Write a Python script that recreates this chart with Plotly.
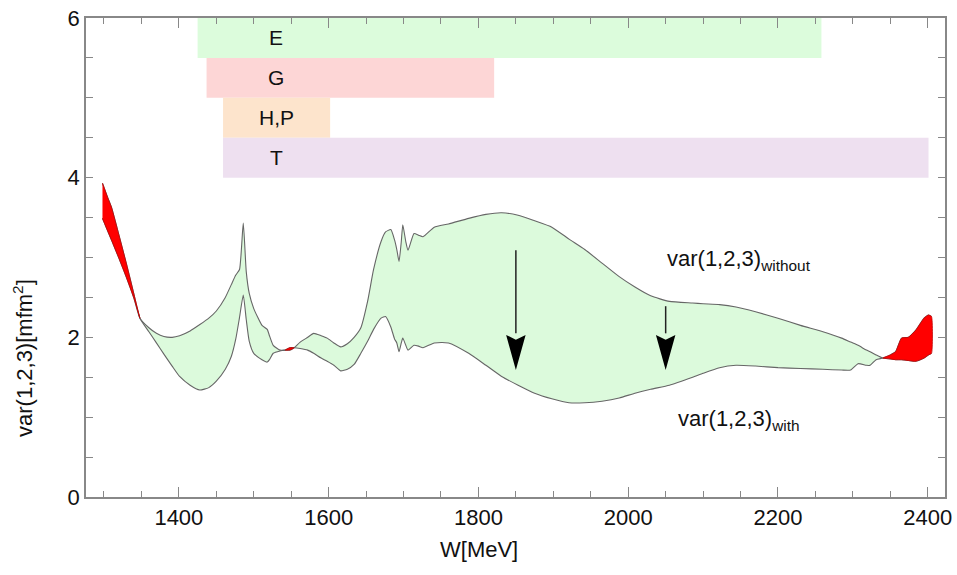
import numpy as np
import plotly.graph_objects as go

# ---------------- data ----------------
W_MEV = [1298, 1305, 1310, 1320, 1330, 1340, 1348, 1360, 1370, 1380, 1391, 1401, 1415, 1428,
         1440, 1450, 1462, 1470, 1476, 1481, 1486, 1490, 1494, 1500, 1511, 1518, 1521, 1526,
         1535, 1542, 1548, 1554, 1562, 1572, 1580, 1590, 1598, 1607, 1616, 1625, 1634, 1643,
         1652, 1660, 1670, 1676, 1683, 1688, 1691, 1694, 1697, 1699, 1703, 1706, 1714, 1720,
         1726, 1741, 1760, 1787, 1810, 1831, 1853, 1875, 1898, 1921, 1942, 1965, 1988, 2009,
         2030, 2055, 2086, 2100, 2122, 2144, 2170, 2200, 2230, 2260, 2285, 2297, 2307, 2318,
         2323, 2331, 2340, 2350, 2357, 2365, 2374, 2384, 2395, 2401, 2405]

VAR_WITHOUT = [3.49, 3.33, 3.22, 2.99, 2.75, 2.49, 2.24, 2.12, 2.05, 2.01, 2.00, 2.02, 2.08, 2.16,
               2.24, 2.33, 2.50, 2.66, 2.78, 2.85, 3.43, 2.82, 2.55, 2.36, 2.15, 2.10, 2.02, 1.90,
               1.84, 1.84, 1.84, 1.87, 1.94, 2.00, 2.05, 2.02, 1.99, 1.93, 1.88, 1.92, 2.00, 2.12,
               2.45, 2.85, 3.20, 3.32, 3.35, 3.22, 3.10, 2.95, 3.20, 3.41, 3.20, 3.09, 3.30, 3.28,
               3.26, 3.38, 3.42, 3.49, 3.54, 3.56, 3.53, 3.46, 3.38, 3.23, 3.10, 2.93, 2.76, 2.63,
               2.52, 2.45, 2.43, 2.42, 2.41, 2.38, 2.32, 2.24, 2.15, 2.07, 1.99, 1.94, 1.90, 1.84,
               1.82, 1.78, 1.74, 1.73, 1.72, 1.72, 1.71, 1.70, 1.74, 1.78, 1.80]

VAR_WITH = [3.93, 3.75, 3.63, 3.28, 2.92, 2.54, 2.24, 2.07, 1.93, 1.79, 1.64, 1.51, 1.40, 1.34,
            1.37, 1.45, 1.60, 1.76, 1.98, 2.25, 2.53, 2.22, 1.95, 1.80, 1.72, 1.69, 1.72, 1.80,
            1.83, 1.84, 1.87, 1.87, 1.86, 1.84, 1.80, 1.74, 1.70, 1.65, 1.58, 1.60, 1.66, 1.80,
            1.95, 2.10, 2.24, 2.26, 2.13, 1.98, 1.93, 1.82, 1.93, 1.99, 1.90, 1.84, 1.90, 1.89,
            1.87, 1.93, 1.93, 1.80, 1.65, 1.51, 1.40, 1.30, 1.23, 1.18, 1.18, 1.20, 1.24, 1.30,
            1.35, 1.40, 1.50, 1.55, 1.62, 1.65, 1.64, 1.62, 1.61, 1.60, 1.59, 1.59, 1.67, 1.65,
            1.65, 1.72, 1.74, 1.78, 1.82, 1.99, 2.00, 2.09, 2.24, 2.28, 2.26]

BAND_LABELS = ["E", "G", "H,P", "T"]
BAND_START = [1425, 1437, 1459, 1459]
BAND_END = [2258, 1821, 1602, 2401]

X_TICKS = [1400, 1600, 1800, 2000, 2200, 2400]
Y_TICKS = [0, 2, 4, 6]

# ---------------- styles ----------------
FONT = "Arial, 'Liberation Sans', sans-serif"
BAND_COLORS = ["#dcfcdc", "#fdd6d6", "#fde4cc", "#eee0f0"]
GREEN_FILL = "#dcfadc"
LINE_GREY = "#666666"
AXIS_GREY = "#888888"
SMOOTH = 0.5

fig = go.Figure()

# bands as horizontal bars
fig.add_trace(go.Bar(
    y=[5.75 - 0.5 * i for i in range(len(BAND_LABELS))],
    x=[e - s for s, e in zip(BAND_START, BAND_END)],
    base=BAND_START,
    orientation="h",
    width=0.5,
    marker=dict(color=BAND_COLORS, line=dict(width=0)),
    hoverinfo="skip",
    showlegend=False,
))

# ---------------- fill segments ----------------
W = np.array(W_MEV, dtype=float)
up = np.array(VAR_WITHOUT, dtype=float)
lo = np.array(VAR_WITH, dtype=float)
d = lo - up

pts = [(W[0], up[0], lo[0])]
for i in range(1, len(W)):
    if d[i - 1] * d[i] < 0:
        t = d[i - 1] / (d[i - 1] - d[i])
        xc = W[i - 1] + t * (W[i] - W[i - 1])
        yc = up[i - 1] + t * (up[i] - up[i - 1])
        pts.append((xc, yc, yc))
    pts.append((W[i], up[i], lo[i]))

segments = []
cur = [pts[0]]
for p in pts[1:]:
    cur.append(p)
    if abs(p[2] - p[1]) < 1e-9:
        segments.append(cur)
        cur = [p]
if len(cur) > 1:
    segments.append(cur)

green_segs, red_segs = [], []
for seg in segments:
    diff = np.mean([p[2] - p[1] for p in seg])
    xs = [p[0] for p in seg]
    ua = [p[1] for p in seg]
    la = [p[2] for p in seg]
    poly_x = xs + xs[::-1]
    poly_y = ua + la[::-1]
    (red_segs if diff > 0 else green_segs).append((poly_x, poly_y))

for px, py in green_segs:
    fig.add_trace(go.Scatter(x=px, y=py, fill="toself", fillcolor=GREEN_FILL,
                             mode="lines", line=dict(width=0, shape="spline", smoothing=SMOOTH),
                             hoverinfo="skip", showlegend=False))

for series in (VAR_WITHOUT, VAR_WITH):
    fig.add_trace(go.Scatter(x=W_MEV, y=series, mode="lines",
                             line=dict(color=LINE_GREY, width=1.1, shape="spline", smoothing=SMOOTH),
                             hoverinfo="skip", showlegend=False))

for px, py in red_segs:
    fig.add_trace(go.Scatter(x=px, y=py, fill="toself", fillcolor="#ff0000",
                             mode="lines",
                             line=dict(color="#c00000", width=0.8, shape="spline", smoothing=SMOOTH),
                             hoverinfo="skip", showlegend=False))

# ---------------- band labels ----------------
LABEL_X = 1530
for i, lab in enumerate(BAND_LABELS):
    fig.add_annotation(x=LABEL_X, y=5.75 - 0.5 * i, text=lab, showarrow=False,
                       font=dict(family=FONT, size=21, color="#111111"),
                       xanchor="center", yanchor="middle")

# ---------------- arrows ----------------
for ax_x, top in [(1850, 3.09), (2050, 2.39)]:
    head_top, tip, half = 2.03, 1.59, 13.0
    fig.add_shape(type="line", x0=ax_x, x1=ax_x, y0=top, y1=head_top + 0.02,
                  xref="x", yref="y", line=dict(color="#222222", width=1.5))
    fig.add_shape(type="path",
                  path=f"M {ax_x - half},{head_top} L {ax_x},{tip} L {ax_x + half},{head_top} "
                       f"L {ax_x},{head_top - 0.06} Z",
                  xref="x", yref="y", fillcolor="#000000", line=dict(width=0))

# ---------------- curve labels ----------------
fig.add_annotation(x=2049, y=2.97, text="var(1,2,3)<sub>without</sub>", showarrow=False,
                   xanchor="left", yanchor="middle",
                   font=dict(family=FONT, size=22, color="#111111"))
fig.add_annotation(x=2064, y=0.96, text="var(1,2,3)<sub>with</sub>", showarrow=False,
                   xanchor="left", yanchor="middle",
                   font=dict(family=FONT, size=22, color="#111111"))

# axis titles as annotations
fig.add_annotation(xref="paper", yref="paper", x=-0.0735, y=0.29,
                   text="var(1,2,3)[mfm<sup>2</sup>]", textangle=-90, showarrow=False,
                   xanchor="center", yanchor="middle",
                   font=dict(family=FONT, size=22, color="#111111"))
fig.add_annotation(xref="paper", yref="paper", x=0.457, y=-0.1086,
                   text="W[MeV]", showarrow=False, xanchor="center", yanchor="middle",
                   font=dict(family=FONT, size=22, color="#111111"))

fig.update_layout(
    width=957, height=575,
    margin=dict(l=86, r=12, t=18, b=78, autoexpand=False),
    paper_bgcolor="white", plot_bgcolor="white",
    showlegend=False,
    font=dict(family=FONT, size=22, color="#111111"),
    barmode="overlay",
)
fig.update_xaxes(
    range=[1276, 2423], tickvals=X_TICKS, ticks="inside", ticklen=10, tickwidth=1.2,
    tickcolor=AXIS_GREY, showline=True, linecolor=AXIS_GREY, linewidth=1.5,
    mirror="ticks", showgrid=False, zeroline=False, automargin=False,
    tickfont=dict(family=FONT, size=22, color="#111111"),
    minor=dict(dtick=50, tick0=1300, ticks="inside", ticklen=6, tickcolor=AXIS_GREY),
)
fig.update_yaxes(
    range=[0, 6], tickvals=Y_TICKS, ticks="inside", ticklen=7, tickwidth=1.2,
    tickcolor=AXIS_GREY, showline=True, linecolor=AXIS_GREY, linewidth=1.5,
    mirror="ticks", showgrid=False, zeroline=False, automargin=False,
    tickfont=dict(family=FONT, size=22, color="#111111"),
    minor=dict(dtick=0.5, tick0=0, ticks="inside", ticklen=7, tickcolor=AXIS_GREY),
)

fig.write_html("out.html")
